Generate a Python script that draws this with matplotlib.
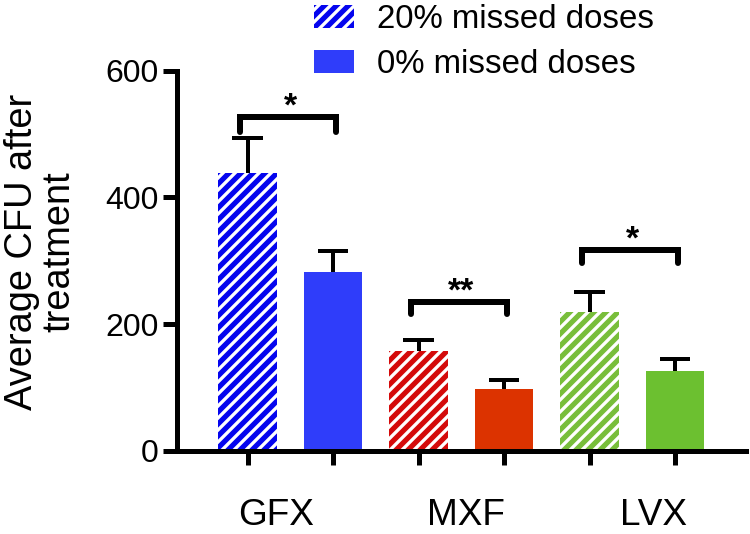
import matplotlib
matplotlib.use("Agg")
import matplotlib.pyplot as plt
import matplotlib.transforms as mtransforms
from matplotlib.patches import Patch
import numpy as np

plt.rcParams['font.family'] = ['Liberation Sans', 'DejaVu Sans']
plt.rcParams['hatch.linewidth'] = 3.3

# ---- data ----
drugs = ["GFX", "MXF", "LVX"]
series = ["20% missed doses", "0% missed doses"]
mean_20 = [439, 157, 219]
err_20 = [55, 18, 32]
mean_0 = [283, 98, 126]
err_0 = [32, 13, 19]
sig_labels = ["*", "**", "*"]
bracket_y = [527, 235, 317]
bracket_drop = [23, 19, 20]
yticks = [0, 200, 400, 600]

# ---- style ----
hatch_colors = ["#0505EE", "#D40A0A", "#78BE3A"]
solid_colors = ["#2F3DFA", "#DC3300", "#6CC030"]
label_offsets = [-0.17, 0.05, 0.25]

DPI = 72
fig = plt.figure(figsize=(750 / DPI, 534 / DPI), dpi=DPI)
ax = fig.add_axes([177 / 750, 1 - 450.5 / 534, (746 - 177) / 750, (450.5 - 71) / 534])

n = len(drugs)
x20 = np.arange(n) * 2
x0 = x20 + 1
width = 0.68

ax.bar(x20, mean_20, width=width, color=hatch_colors, edgecolor="white",
       linewidth=0, hatch="//", zorder=2)
ax.bar(x0, mean_0, width=width, color=solid_colors, linewidth=0, zorder=2)

# error bars (upper only)
capw = 0.18
for xs, m, e in ((x20, mean_20, err_20), (x0, mean_0, err_0)):
    m = np.array(m)
    e = np.array(e)
    ax.vlines(xs, m, m + e, color="black", linewidth=4, zorder=1)
    ax.hlines(m + e, xs - capw, xs + capw, color="black", linewidth=4, zorder=3)

# significance brackets
for i in range(n):
    xl = x20[i] - 0.09
    xr = x0[i] + 0.04
    yb = bracket_y[i]
    d = bracket_drop[i]
    ax.plot([xl, xl, xr, xr], [yb - d, yb, yb, yb - d], color="black",
            linewidth=6, solid_capstyle="round", solid_joinstyle="miter", zorder=3)
    ax.text((x20[i] + x0[i]) / 2, yb + 16, sig_labels[i], ha="center", va="center",
            fontsize=34, fontweight="bold")

ax.set_ylim(0, 600)
ax.set_xlim(-0.825, 5.83)
ax.set_yticks(yticks)
ax.set_yticklabels([str(t) for t in yticks], fontsize=32)
ax.set_xticks(np.concatenate([x20, x0]))
ax.set_xticklabels([])
ax.tick_params(axis="both", direction="out", length=14, width=5, color="black")
ax.tick_params(axis="y", pad=4)

for s in ("top", "right"):
    ax.spines[s].set_visible(False)
for s in ("left", "bottom"):
    ax.spines[s].set_linewidth(5)
    ax.spines[s].set_capstyle("projecting")

# category labels
trans = mtransforms.blended_transform_factory(ax.transData, fig.transFigure)
for i, name in enumerate(drugs):
    cx = (x20[i] + x0[i]) / 2 + label_offsets[i]
    ax.text(cx, 1 / 534, name, transform=trans, ha="center", va="bottom", fontsize=37)

# y label
fig.text(41 / 750, 1 - 252 / 534, "Average CFU after\ntreatment", rotation=90,
         ha="center", va="center", multialignment="center", fontsize=38, linespacing=1.05)

# legend
handles = [Patch(facecolor=hatch_colors[0], edgecolor="white", linewidth=0, hatch="//"),
           Patch(facecolor=solid_colors[0], linewidth=0)]
fig.legend(handles, series, loc="upper left", bbox_to_anchor=(314 / 750, 1 - 4 / 534),
           bbox_transform=fig.transFigure, frameon=False, fontsize=33,
           handlelength=1.21, handleheight=0.67, handletextpad=0.7,
           labelspacing=0.42, borderpad=0, borderaxespad=0)

fig.savefig("out.png", dpi=DPI)
